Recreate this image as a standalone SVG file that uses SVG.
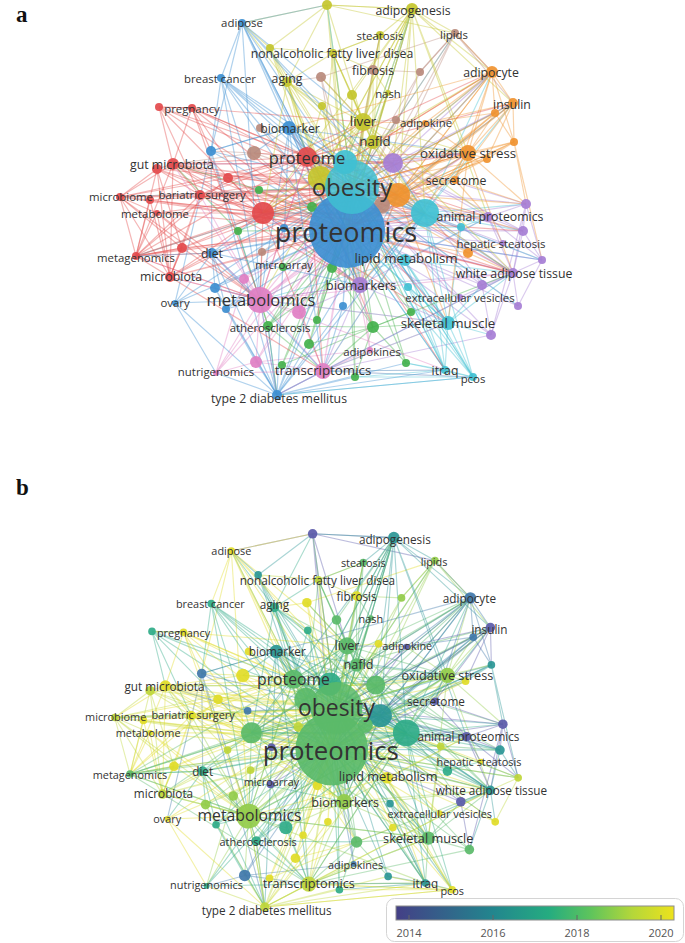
<svg xmlns="http://www.w3.org/2000/svg" width="685" height="943" viewBox="0 0 685 943">
<style>
.sR{stroke:#e34a4c}.sB{stroke:#3d8fd1}.sC{stroke:#40c0d2}.sY{stroke:#c4c62c}.sN{stroke:#b98a7c}.sO{stroke:#f0932f}.sP{stroke:#a67ed5}.sK{stroke:#e07fc3}.sG{stroke:#43b14c}
.fR{fill:#e34a4c}.fB{fill:#3d8fd1}.fC{fill:#40c0d2}.fY{fill:#c4c62c}.fN{fill:#b98a7c}.fO{fill:#f0932f}.fP{fill:#a67ed5}.fK{fill:#e07fc3}.fG{fill:#43b14c}
.s0{stroke:#5b5aa9}.s1{stroke:#3f77aa}.s2{stroke:#2a9695}.s3{stroke:#2fab88}.s4{stroke:#5aba69}.s5{stroke:#93cc4a}.s6{stroke:#bfd639}.s7{stroke:#e1dc27}
.f0{fill:#5b5aa9}.f1{fill:#3f77aa}.f2{fill:#2a9695}.f3{fill:#2fab88}.f4{fill:#5aba69}.f5{fill:#93cc4a}.f6{fill:#bfd639}.f7{fill:#e1dc27}
.edges{fill:none;stroke-width:1.2;stroke-opacity:.4}
circle{fill-opacity:.92}
.nodes text{font-family:"Open Sans","Noto Sans","DejaVu Sans",sans-serif;text-anchor:middle;dominant-baseline:central;fill:#333}
.l1{font-size:11.4px}.l2{font-size:12.3px}.l3{font-size:13.3px}.l4{font-size:16.5px;fill:#1e1e1e}.l5{font-size:24px;fill:#1a1a1a}.l6{font-size:27px;fill:#1a1a1a}
.pl{font-family:"Liberation Serif","Times New Roman",serif;font-size:23px;font-weight:bold;fill:#111}
.lg{font-family:"Open Sans","Noto Sans",sans-serif;font-size:11px;fill:#555;text-anchor:middle}
</style>
<defs>
<linearGradient id="vir" x1="0" x2="1" y1="0" y2="0">
<stop offset="0" stop-color="#443f86"/><stop offset="0.35" stop-color="#22868e"/><stop offset="0.55" stop-color="#25ac80"/><stop offset="0.7" stop-color="#5ec45c"/><stop offset="0.85" stop-color="#b4d73a"/><stop offset="1" stop-color="#ede21c"/>
</linearGradient>
<path id="e-u1" d="M327 5L347 230M327 5L352 187M327 5L412 9M327 5L242 23M327 5L455 33M327 5L333 53M327 5L363 122"/>
<path id="e-u2" d="M270 48L347 230M270 48L352 187M270 48L242 23M270 48L327 5M270 48L307 157"/>
<path id="e-u3" d="M321 77L347 230M321 77L352 187M321 77L363 122M321 77L287 82M321 77L455 33"/>
<path id="e-u4" d="M352 95L347 230M352 95L352 187M352 95L333 53M352 95L412 9M352 95L363 122"/>
<path id="e-u5" d="M322 106L347 230M322 106L352 187M322 106L287 82M322 106L307 157"/>
<path id="e-u6" d="M159 107L347 230M159 107L352 187M159 107L192 108M159 107L173 164M159 107L263 213M159 107L307 157M159 107L200 195"/>
<path id="e-u7" d="M420 72L347 230M420 72L352 187M420 72L455 33M420 72L373 70"/>
<path id="e-u8" d="M396 120L347 230M396 120L352 187M396 120L425 123M396 120L363 122"/>
<path id="e-u9" d="M495 113L347 230M495 113L352 187M495 113L425 123M495 113L514 142M495 113L398 195"/>
<path id="e-u10" d="M514 142L347 230M514 142L352 187M514 142L487 159M514 142L526 204M514 142L542 260M514 142L398 195"/>
<path id="e-u11" d="M487 159L347 230M487 159L352 187M487 159L398 195"/>
<path id="e-u12" d="M211 151L347 230M211 151L352 187M211 151L289 128M211 151L212 253M211 151L175 303M211 151L277 395M211 151L260 300"/>
<path id="e-u13" d="M254 153L347 230M254 153L352 187M254 153L307 157M254 153L211 151M254 153L173 164"/>
<path id="e-u14" d="M157 169L347 230M157 169L352 187M157 169L263 213M157 169L120 197M157 169L136 256M157 169L200 195M157 169L170 277M157 169L182 248"/>
<path id="e-u15" d="M228 178L347 230M228 178L352 187M228 178L307 157M228 178L263 213M228 178L136 256M228 178L120 197M228 178L468 153"/>
<path id="e-u16" d="M259 190L347 230M259 190L352 187M259 190L173 164"/>
<path id="e-u17" d="M150 200L347 230M150 200L352 187M150 200L263 213M150 200L136 256M150 200L170 277"/>
<path id="e-u18" d="M312 207L347 230M312 207L352 187M312 207L373 327"/>
<path id="e-u19" d="M238 231L347 230M238 231L352 187M238 231L173 164M238 231L268 326"/>
<path id="e-u20" d="M182 248L347 230M182 248L352 187M182 248L263 213M182 248L136 256M182 248L170 277M182 248L260 300"/>
<path id="e-u21" d="M262 252L347 230M262 252L352 187M262 252L260 300"/>
<path id="e-u22" d="M332 268L347 230M332 268L352 187M332 268L373 327"/>
<path id="e-u23" d="M408 287L347 230M408 287L352 187M408 287L448 323M408 287L445 370M408 287L473 377"/>
<path id="e-u24" d="M461 227L347 230M461 227L352 187M461 227L488 217M461 227L448 323"/>
<path id="e-u25" d="M244 279L347 230M244 279L352 187M244 279L216 373"/>
<path id="e-u26" d="M215 288L347 230M215 288L352 187M215 288L260 300M215 288L277 395M215 288L226 309"/>
<path id="e-u27" d="M226 309L347 230M226 309L352 187M226 309L260 300M226 309L277 395M226 309L256 362"/>
<path id="e-u28" d="M299 312L347 230M299 312L352 187M299 312L323 371"/>
<path id="e-u29" d="M343 306L347 230M343 306L352 187M343 306L277 395M343 306L323 371"/>
<path id="e-u30" d="M317 320L347 230M317 320L352 187"/>
<path id="e-u31" d="M309 344L347 230M309 344L352 187M309 344L373 327"/>
<path id="e-u32" d="M256 362L347 230M256 362L352 187M256 362L216 373M256 362L323 371M256 362L370 350"/>
<path id="e-u33" d="M282 365L347 230M282 365L352 187M282 365L373 327"/>
<path id="e-u34" d="M355 377L347 230M355 377L352 187"/>
<path id="e-u35" d="M526 204L347 230M526 204L352 187M526 204L523 231M526 204L542 260M526 204L513 273M526 204L491 335"/>
<path id="e-u36" d="M523 231L347 230M523 231L352 187M523 231L542 260M523 231L513 273"/>
<path id="e-u37" d="M468 253L347 230M468 253L352 187M468 253L503 243M468 253L513 273"/>
<path id="e-u38" d="M542 260L347 230M542 260L352 187M542 260L518 306M542 260L513 273"/>
<path id="e-u39" d="M482 285L347 230M482 285L352 187M482 285L491 335"/>
<path id="e-u40" d="M518 306L347 230M518 306L352 187"/>
<path id="e-u41" d="M411 312L347 230M411 312L352 187M411 312L373 327"/>
<path id="e-u42" d="M373 327L347 230M373 327L352 187M373 327L406 363M373 327L355 377M373 327L448 323"/>
<path id="e-u43" d="M491 335L347 230M491 335L352 187M491 335L323 371"/>
<path id="e-u44" d="M406 363L347 230M406 363L352 187"/>
<path id="e-u45" d="M260 128L347 230M260 128L352 187"/>
<path id="e-u46" d="M284 228L347 230M284 228L352 187"/>
<path id="e-u47" d="M263 213L347 230M263 213L352 187M263 213L307 157M263 213L260 300M263 213L425 213M263 213L393 163M263 213L398 195M263 213L136 256M263 213L170 277M263 213L360 285M263 213L323 371M263 213L488 217M263 213L468 153"/>
<path id="e-u48" d="M345 162L347 230M345 162L352 187M345 162L363 122M345 162L468 153M345 162L425 213"/>
<path id="e-u49" d="M320 178L347 230M320 178L352 187M320 178L363 122M320 178L412 9M320 178L333 53M320 178L287 82"/>
<path id="e-u50" d="M393 163L347 230M393 163L352 187M393 163L307 157M393 163L488 217M393 163L526 204M393 163L523 231M393 163L513 273M393 163L482 285M393 163L360 285M393 163L173 164"/>
<path id="e-u51" d="M398 195L347 230M398 195L352 187M398 195L468 153M398 195L492 72M398 195L513 103M398 195L495 113M398 195L514 142M398 195L455 180M398 195L487 159M398 195L468 253M398 195L523 231M398 195L526 204"/>
<path id="e-u52" d="M382 205L347 230M382 205L352 187"/>
<path id="e-u53" d="M425 213L347 230M425 213L352 187M425 213L488 217M425 213L523 231M425 213L526 204M425 213L513 273M425 213L448 323M425 213L445 370M425 213L473 377M425 213L468 153M425 213L492 72M425 213L513 103M425 213L260 300"/>
<path id="e-proteomics" d="M347 230L352 187M347 230L468 153M347 230L492 72M347 230L513 103M347 230L412 9M347 230L242 23M347 230L542 260M347 230L445 370"/>
<path id="e-obesity" d="M352 187L492 72M352 187L513 103M352 187L412 9M352 187L455 33M352 187L542 260M352 187L518 306M352 187L445 370M352 187L473 377M352 187L327 5M352 187L136 256M352 187L120 197"/>
<path id="e-proteome" d="M307 157L347 230M307 157L352 187M307 157L363 122M307 157L393 163M307 157L398 195M307 157L425 213M307 157L468 153M307 157L360 285M307 157L260 300M307 157L373 142M307 157L289 128M307 157L254 153M307 157L513 273M307 157L488 217M307 157L373 327"/>
<path id="e-metabolomics" d="M260 300L347 230M260 300L352 187M260 300L216 373M260 300L256 362M260 300L323 371M260 300L299 312M260 300L244 279M260 300L445 370M260 300L360 285M260 300L277 395M260 300L136 256"/>
<path id="e-liver" d="M363 122L347 230M363 122L352 187M363 122L307 157M363 122L373 142M363 122L380 35M363 122L412 9M363 122L373 70M363 122L388 93M363 122L352 95M363 122L333 53M363 122L287 82M363 122L321 77M363 122L468 153M363 122L260 300"/>
<path id="e-nafld" d="M373 142L347 230M373 142L352 187M373 142L380 35M373 142L412 9M373 142L333 53M373 142L373 70M373 142L388 93M373 142L352 95"/>
<path id="e-biomarker" d="M289 128L347 230M289 128L352 187M289 128L307 157M289 128L211 151M289 128L360 285M289 128L425 213M289 128L393 163M289 128L254 153M289 128L260 300M289 128L277 395"/>
<path id="e-biomarkers" d="M360 285L347 230M360 285L352 187M360 285L260 300M360 285L513 273M360 285L488 217M360 285L323 371M360 285L299 312"/>
<path id="e-oxidative" d="M468 153L347 230M468 153L352 187M468 153L492 72M468 153L513 103M468 153L495 113M468 153L514 142M468 153L487 159M468 153L455 180M468 153L425 123M468 153L526 204M468 153L513 273"/>
<path id="e-transcriptomics" d="M323 371L347 230M323 371L352 187M323 371L370 350M323 371L445 370M323 371L473 377M323 371L513 273"/>
<path id="e-skeletal" d="M448 323L347 230M448 323L352 187M448 323L445 370M448 323L473 377M448 323L491 335M448 323L513 273M448 323L482 285M448 323L260 300M448 323L323 371"/>
<path id="e-lipidmet" d="M405 260L347 230M405 260L352 187M405 260L448 323M405 260L513 273M405 260L488 217M405 260L445 370M405 260L473 377M405 260L260 300"/>
<path id="e-animal" d="M488 217L347 230M488 217L352 187M488 217L526 204M488 217L523 231M488 217L542 260M488 217L513 273M488 217L503 243"/>
<path id="e-wat" d="M513 273L347 230M513 273L352 187M513 273L482 285M513 273L518 306M513 273L491 335M513 273L460 297"/>
<path id="e-gut" d="M173 164L347 230M173 164L352 187M173 164L307 157M173 164L263 213M173 164L120 197M173 164L157 169M173 164L136 256M173 164L170 277M173 164L200 195M173 164L228 178M173 164L398 195"/>
<path id="e-adipogenesis" d="M412 9L347 230M412 9L352 187M412 9L492 72M412 9L380 35M412 9L455 33M412 9L327 5M412 9L513 103M412 9L393 163M412 9L398 195M412 9L320 178M412 9L345 162"/>
<path id="e-adipocyte" d="M492 72L347 230M492 72L352 187M492 72L513 103M492 72L495 113M492 72L425 123M492 72L455 33M492 72L514 142M492 72L455 180M492 72L398 195M492 72L263 213M492 72L289 128"/>
<path id="e-insulin" d="M513 103L347 230M513 103L352 187M513 103L495 113M513 103L514 142M513 103L425 123M513 103L487 159M513 103L455 180"/>
<path id="e-aging" d="M287 82L347 230M287 82L352 187M287 82L307 157M287 82L333 53M287 82L270 48M287 82L242 23M287 82L327 5"/>
<path id="e-bariatric" d="M200 195L347 230M200 195L352 187M200 195L307 157M200 195L263 213M200 195L136 256M200 195L170 277M200 195L182 248M200 195L363 122M200 195L425 213M200 195L398 195"/>
<path id="e-ather" d="M268 326L347 230M268 326L352 187M268 326L260 300M268 326L323 371M268 326L277 395M268 326L373 327"/>
<path id="e-t2d" d="M277 395L347 230M277 395L352 187M277 395L260 300M277 395L256 362M277 395L323 371M277 395L355 377M277 395L445 370M277 395L473 377M277 395L216 373M277 395L268 326M277 395L406 363"/>
<path id="e-secretome" d="M455 180L347 230M455 180L352 187M455 180L526 204M455 180L488 217"/>
<path id="e-nafldis" d="M333 53L347 230M333 53L352 187M333 53L270 48M333 53L380 35M333 53L373 70"/>
<path id="e-fibrosis" d="M373 70L347 230M373 70L352 187M373 70L380 35"/>
<path id="e-steatosis" d="M380 35L347 230M380 35L352 187M380 35L333 53M380 35L373 70"/>
<path id="e-lipids" d="M455 33L347 230M455 33L352 187M455 33L492 72M455 33L513 103M455 33L420 72M455 33L393 163"/>
<path id="e-nash" d="M388 93L347 230M388 93L352 187M388 93L373 70"/>
<path id="e-adipokine" d="M425 123L347 230M425 123L352 187M425 123L363 122"/>
<path id="e-adipose" d="M242 23L347 230M242 23L352 187M242 23L307 157M242 23L289 128M242 23L211 151M242 23L221 78M242 23L360 285M242 23L363 122M242 23L327 5"/>
<path id="e-breast" d="M221 78L347 230M221 78L352 187M221 78L307 157M221 78L289 128M221 78L211 151M221 78L263 213M221 78L260 300"/>
<path id="e-pregnancy" d="M192 108L347 230M192 108L352 187M192 108L307 157M192 108L159 107M192 108L173 164M192 108L263 213M192 108L211 151M192 108L363 122"/>
<path id="e-microbiome" d="M120 197L347 230M120 197L352 187M120 197L263 213M120 197L200 195M120 197L136 256M120 197L157 213M120 197L170 277M120 197L182 248M120 197L150 200"/>
<path id="e-metabolome" d="M157 213L347 230M157 213L352 187M157 213L263 213M157 213L136 256M157 213L170 277M157 213L260 300M157 213L212 253"/>
<path id="e-metagenomics" d="M136 256L347 230M136 256L352 187M136 256L170 277M136 256L260 300M136 256L212 253M136 256L182 248M136 256L323 371"/>
<path id="e-diet" d="M212 253L347 230M212 253L352 187M212 253L260 300M212 253L175 303M212 253L215 288M212 253L226 309M212 253L277 395M212 253L136 256M212 253L263 213"/>
<path id="e-microbiota" d="M170 277L347 230M170 277L352 187M170 277L260 300M170 277L212 253M170 277L182 248M170 277L425 213"/>
<path id="e-microarray" d="M283 267L347 230M283 267L352 187"/>
<path id="e-ovary" d="M175 303L347 230M175 303L352 187M175 303L260 300M175 303L277 395M175 303L216 373"/>
<path id="e-nutri" d="M216 373L347 230M216 373L352 187M216 373L323 371"/>
<path id="e-adipokines" d="M370 350L347 230M370 350L352 187"/>
<path id="e-hepatic" d="M503 243L347 230M503 243L352 187"/>
<path id="e-ev" d="M460 297L347 230M460 297L352 187"/>
<path id="e-itraq" d="M445 370L347 230M445 370L352 187M445 370L473 377M445 370L323 371M445 370L355 377M445 370L406 363"/>
<path id="e-pcos" d="M473 377L347 230M473 377L352 187M473 377L355 377M473 377L406 363M473 377L323 371M473 377L277 395"/>
<path id="x-r7" d="M173 164L360 285M173 164L393 163M173 164L425 213M173 164L513 273M192 108L398 195M192 108L260 300M200 195L468 153M200 195L360 285M200 195L513 273"/>
<path id="x-r6" d="M120 197L307 157M120 197L398 195M120 197L260 300"/>
<path id="x-r4" d="M136 256L307 157M136 256L425 213M263 213L513 273M263 213L448 323M263 213L523 231M263 213L492 72M307 157L513 103M307 157L492 72M307 157L448 323M307 157L323 371M307 157L445 370"/>
<path id="x-b2" d="M289 128L468 153M289 128L513 273M289 128L448 323M289 128L323 371"/>
<path id="x-b7" d="M242 23L398 195M242 23L425 213M242 23L260 300"/>
<path id="x-b3" d="M221 78L398 195M221 78L360 285M212 253L425 213M212 253L360 285M212 253L323 371"/>
<path id="x-b6" d="M277 395L425 213M277 395L398 195M277 395L513 273"/>
<path id="x-y4" d="M363 122L425 213M363 122L398 195M363 122L513 273M363 122L488 217M363 122L360 285M363 122L263 213M373 142L468 153M373 142L425 213M373 142L492 72M373 142L263 213"/>
<path id="x-y2" d="M412 9L425 213M412 9L468 153M412 9L488 217M412 9L263 213"/>
<path id="x-y3" d="M287 82L393 163M287 82L425 213M287 82L263 213M287 82L360 285"/>
<path id="x-k5" d="M260 300L425 213M260 300L398 195M260 300L468 153M260 300L513 273M260 300L448 323M260 300L307 157M260 300L173 164M260 300L200 195M260 300L212 253M260 300L170 277"/>
<path id="x-k6" d="M323 371L425 213M323 371L448 323M323 371L277 395"/>
<path id="x-p5" d="M360 285L425 213M360 285L398 195M360 285L263 213M360 285L448 323"/>
<path id="x-p4" d="M393 163L398 195M393 163L468 153M393 163L492 72M393 163L513 103M393 163L425 213"/>
<path id="x-c3" d="M425 213L393 163M425 213L263 213M425 213L307 157M425 213L360 285M425 213L323 371"/>
<path id="x-g3" d="M268 326L425 213M268 326L398 195"/>
<path id="x-g4" d="M373 327L513 273M373 327L323 371"/>
<path id="x-o5" d="M468 153L263 213M468 153L360 285M468 153L448 323"/>
<path id="x-o2" d="M398 195L263 213M398 195L307 157M398 195L360 285M398 195L448 323M398 195L513 273M398 195L488 217"/>
</defs>
<rect width="685" height="943" fill="#fff"/>
<text class="pl" x="16" y="22">a</text>
<text class="pl" x="16" y="495">b</text>

<g id="panel-a">
<g id="edges-a" class="edges">
<use href="#e-u1" class="sY"/><use href="#e-u2" class="sY"/><use href="#e-u3" class="sN"/><use href="#e-u4" class="sY"/><use href="#e-u5" class="sY"/><use href="#e-u6" class="sR"/><use href="#e-u7" class="sN"/><use href="#e-u8" class="sN"/><use href="#e-u9" class="sO"/><use href="#e-u10" class="sO"/><use href="#e-u11" class="sO"/><use href="#e-u12" class="sB"/><use href="#e-u13" class="sN"/><use href="#e-u14" class="sR"/><use href="#e-u15" class="sR"/><use href="#e-u16" class="sG"/><use href="#e-u17" class="sR"/><use href="#e-u18" class="sG"/><use href="#e-u19" class="sG"/><use href="#e-u20" class="sR"/><use href="#e-u21" class="sN"/><use href="#e-u22" class="sG"/><use href="#e-u23" class="sC"/><use href="#e-u24" class="sC"/><use href="#e-u25" class="sK"/><use href="#e-u26" class="sB"/><use href="#e-u27" class="sB"/><use href="#e-u28" class="sK"/><use href="#e-u29" class="sB"/><use href="#e-u30" class="sG"/><use href="#e-u31" class="sG"/><use href="#e-u32" class="sK"/><use href="#e-u33" class="sG"/><use href="#e-u34" class="sG"/><use href="#e-u35" class="sP"/><use href="#e-u36" class="sP"/><use href="#e-u37" class="sO"/><use href="#e-u38" class="sP"/><use href="#e-u39" class="sP"/><use href="#e-u40" class="sP"/><use href="#e-u41" class="sG"/><use href="#e-u42" class="sG"/><use href="#e-u43" class="sP"/><use href="#e-u44" class="sG"/><use href="#e-u45" class="sN"/><use href="#e-u46" class="sB"/><use href="#e-u47" class="sR"/><use href="#e-u48" class="sC"/><use href="#e-u49" class="sY"/><use href="#e-u50" class="sP"/><use href="#e-u51" class="sO"/><use href="#e-u52" class="sN"/><use href="#e-u53" class="sC"/>
<use href="#e-proteomics" class="sB"/><use href="#e-obesity" class="sC"/><use href="#e-proteome" class="sR"/><use href="#e-metabolomics" class="sK"/><use href="#e-liver" class="sY"/><use href="#e-nafld" class="sY"/><use href="#e-biomarker" class="sB"/><use href="#e-biomarkers" class="sP"/><use href="#e-oxidative" class="sO"/><use href="#e-transcriptomics" class="sK"/><use href="#e-skeletal" class="sC"/><use href="#e-lipidmet" class="sC"/><use href="#e-animal" class="sP"/><use href="#e-wat" class="sP"/><use href="#e-gut" class="sR"/><use href="#e-adipogenesis" class="sY"/><use href="#e-adipocyte" class="sO"/><use href="#e-insulin" class="sO"/><use href="#e-aging" class="sY"/><use href="#e-bariatric" class="sR"/><use href="#e-ather" class="sG"/><use href="#e-t2d" class="sB"/><use href="#e-secretome" class="sO"/><use href="#e-nafldis" class="sY"/><use href="#e-fibrosis" class="sN"/><use href="#e-steatosis" class="sY"/><use href="#e-lipids" class="sN"/><use href="#e-nash" class="sY"/><use href="#e-adipokine" class="sO"/><use href="#e-adipose" class="sB"/><use href="#e-breast" class="sB"/><use href="#e-pregnancy" class="sR"/><use href="#e-microbiome" class="sR"/><use href="#e-metabolome" class="sR"/><use href="#e-metagenomics" class="sR"/><use href="#e-diet" class="sB"/><use href="#e-microbiota" class="sR"/><use href="#e-microarray" class="sG"/><use href="#e-ovary" class="sB"/><use href="#e-nutri" class="sK"/><use href="#e-adipokines" class="sK"/><use href="#e-hepatic" class="sP"/><use href="#e-ev" class="sP"/><use href="#e-itraq" class="sC"/><use href="#e-pcos" class="sC"/>
<use href="#x-r7" class="sR"/><use href="#x-r6" class="sR"/><use href="#x-r4" class="sR"/><use href="#x-b2" class="sB"/><use href="#x-b7" class="sB"/><use href="#x-b3" class="sB"/><use href="#x-b6" class="sB"/><use href="#x-y4" class="sY"/><use href="#x-y2" class="sY"/><use href="#x-y3" class="sY"/><use href="#x-k5" class="sK"/><use href="#x-k6" class="sK"/><use href="#x-p5" class="sP"/><use href="#x-p4" class="sP"/><use href="#x-c3" class="sC"/><use href="#x-g3" class="sG"/><use href="#x-g4" class="sG"/><use href="#x-o5" class="sO"/><use href="#x-o2" class="sO"/>
</g>
<g id="nodes-a" class="nodes">
<g id="a-u1"><circle class="fY" cx="327" cy="5" r="5"/></g>
<g id="a-u2"><circle class="fY" cx="270" cy="48" r="4"/></g>
<g id="a-u3"><circle class="fN" cx="321" cy="77" r="5"/></g>
<g id="a-u4"><circle class="fY" cx="352" cy="95" r="5"/></g>
<g id="a-u5"><circle class="fY" cx="322" cy="106" r="4"/></g>
<g id="a-u6"><circle class="fR" cx="159" cy="107" r="4"/></g>
<g id="a-u7"><circle class="fN" cx="420" cy="72" r="4"/></g>
<g id="a-u8"><circle class="fN" cx="396" cy="120" r="4"/></g>
<g id="a-u9"><circle class="fO" cx="495" cy="113" r="4"/></g>
<g id="a-u10"><circle class="fO" cx="514" cy="142" r="4"/></g>
<g id="a-u11"><circle class="fO" cx="487" cy="159" r="4"/></g>
<g id="a-u12"><circle class="fB" cx="211" cy="151" r="5"/></g>
<g id="a-u13"><circle class="fN" cx="254" cy="153" r="7"/></g>
<g id="a-u14"><circle class="fR" cx="157" cy="169" r="5"/></g>
<g id="a-u15"><circle class="fR" cx="228" cy="178" r="5"/></g>
<g id="a-u16"><circle class="fG" cx="259" cy="190" r="4"/></g>
<g id="a-u17"><circle class="fR" cx="150" cy="200" r="4"/></g>
<g id="a-u18"><circle class="fG" cx="312" cy="207" r="5"/></g>
<g id="a-u19"><circle class="fG" cx="238" cy="231" r="4"/></g>
<g id="a-u20"><circle class="fR" cx="182" cy="248" r="5"/></g>
<g id="a-u21"><circle class="fN" cx="262" cy="252" r="4"/></g>
<g id="a-u22"><circle class="fG" cx="332" cy="268" r="5"/></g>
<g id="a-u23"><circle class="fC" cx="408" cy="287" r="4"/></g>
<g id="a-u24"><circle class="fC" cx="461" cy="227" r="4"/></g>
<g id="a-u25"><circle class="fK" cx="244" cy="279" r="5"/></g>
<g id="a-u26"><circle class="fB" cx="215" cy="288" r="5"/></g>
<g id="a-u27"><circle class="fB" cx="226" cy="309" r="4"/></g>
<g id="a-u28"><circle class="fK" cx="299" cy="312" r="7"/></g>
<g id="a-u29"><circle class="fB" cx="343" cy="306" r="4"/></g>
<g id="a-u30"><circle class="fG" cx="317" cy="320" r="4"/></g>
<g id="a-u31"><circle class="fG" cx="309" cy="344" r="5"/></g>
<g id="a-u32"><circle class="fK" cx="256" cy="362" r="6"/></g>
<g id="a-u33"><circle class="fG" cx="282" cy="365" r="4"/></g>
<g id="a-u34"><circle class="fG" cx="355" cy="377" r="4"/></g>
<g id="a-u35"><circle class="fP" cx="526" cy="204" r="5"/></g>
<g id="a-u36"><circle class="fP" cx="523" cy="231" r="5"/></g>
<g id="a-u37"><circle class="fO" cx="468" cy="253" r="5"/></g>
<g id="a-u38"><circle class="fP" cx="542" cy="260" r="4"/></g>
<g id="a-u39"><circle class="fP" cx="482" cy="285" r="5"/></g>
<g id="a-u40"><circle class="fP" cx="518" cy="306" r="4"/></g>
<g id="a-u41"><circle class="fG" cx="411" cy="312" r="4"/></g>
<g id="a-u42"><circle class="fG" cx="373" cy="327" r="6"/></g>
<g id="a-u43"><circle class="fP" cx="491" cy="335" r="5"/></g>
<g id="a-u44"><circle class="fG" cx="406" cy="363" r="4"/></g>
<g id="a-u45"><circle class="fN" cx="260" cy="128" r="4"/></g>
<g id="a-u46"><circle class="fB" cx="284" cy="228" r="4"/></g>
<g id="a-u47"><circle class="fR" cx="263" cy="213" r="11"/></g>
<g id="a-u48"><circle class="fC" cx="345" cy="162" r="12"/></g>
<g id="a-u49"><circle class="fY" cx="320" cy="178" r="12"/></g>
<g id="a-u50"><circle class="fP" cx="393" cy="163" r="10"/></g>
<g id="a-u51"><circle class="fO" cx="398" cy="195" r="12"/></g>
<g id="a-u52"><circle class="fN" cx="382" cy="205" r="8"/></g>
<g id="a-u53"><circle class="fC" cx="425" cy="213" r="14"/></g>
<g id="a-proteomics"><circle class="fB" cx="347" cy="230" r="38"/><text class="l6" x="346" y="231">proteomics</text></g>
<g id="a-obesity"><circle class="fC" cx="352" cy="187" r="27" style="fill-opacity:.85"/><text class="l5" x="352" y="186">obesity</text></g>
<g id="a-proteome"><circle class="fR" cx="307" cy="157" r="10"/><text class="l4" x="307" y="157">proteome</text></g>
<g id="a-metabolomics"><circle class="fK" cx="260" cy="300" r="13"/><text class="l4" x="261" y="299">metabolomics</text></g>
<g id="a-liver"><circle class="fY" cx="363" cy="122" r="9"/><text class="l3" x="363" y="121">liver</text></g>
<g id="a-nafld"><circle class="fY" cx="373" cy="142" r="7"/><text class="l3" x="375" y="141">nafld</text></g>
<g id="a-biomarker"><circle class="fB" cx="289" cy="128" r="7"/><text class="l2" x="290" y="128">biomarker</text></g>
<g id="a-biomarkers"><circle class="fP" cx="360" cy="285" r="8"/><text class="l3" x="361" y="285">biomarkers</text></g>
<g id="a-oxidative-stress"><circle class="fO" cx="468" cy="153" r="8"/><text class="l3" x="468" y="153">oxidative stress</text></g>
<g id="a-transcriptomics"><circle class="fK" cx="323" cy="371" r="8"/><text class="l3" x="323" y="370">transcriptomics</text></g>
<g id="a-skeletal-muscle"><circle class="fC" cx="448" cy="323" r="7"/><text class="l3" x="448" y="323">skeletal muscle</text></g>
<g id="a-lipid-metabolism"><circle class="fC" cx="405" cy="260" r="6"/><text class="l3" x="406" y="258">lipid metabolism</text></g>
<g id="a-animal-proteomics"><circle class="fP" cx="488" cy="217" r="5"/><text class="l2" x="490" y="216">animal proteomics</text></g>
<g id="a-white-adipose-tissue"><circle class="fP" cx="513" cy="273" r="5"/><text class="l2" x="514" y="273">white adipose tissue</text></g>
<g id="a-gut-microbiota"><circle class="fR" cx="173" cy="164" r="6"/><text class="l2" x="172" y="164">gut microbiota</text></g>
<g id="a-adipogenesis"><circle class="fY" cx="412" cy="9" r="6"/><text class="l2" x="413" y="10">adipogenesis</text></g>
<g id="a-adipocyte"><circle class="fO" cx="492" cy="72" r="6"/><text class="l2" x="491" y="72">adipocyte</text></g>
<g id="a-insulin"><circle class="fO" cx="513" cy="103" r="5"/><text class="l2" x="512" y="104">insulin</text></g>
<g id="a-aging"><circle class="fY" cx="287" cy="82" r="5"/><text class="l2" x="287" y="78">aging</text></g>
<g id="a-bariatric-surgery"><circle class="fR" cx="200" cy="195" r="5"/><text class="l1" x="202" y="194">bariatric surgery</text></g>
<g id="a-atherosclerosis"><circle class="fG" cx="268" cy="326" r="5"/><text class="l1" x="270" y="327">atherosclerosis</text></g>
<g id="a-type-2-diabetes-mellitus"><circle class="fB" cx="277" cy="395" r="5"/><text class="l2" x="279" y="398">type 2 diabetes mellitus</text></g>
<g id="a-secretome"><circle class="fO" cx="455" cy="180" r="4"/><text class="l2" x="456" y="180">secretome</text></g>
<g id="a-nonalcoholic-fatty-liver-disea"><circle class="fY" cx="333" cy="53" r="4"/><text class="l2" x="332" y="53">nonalcoholic fatty liver disea</text></g>
<g id="a-fibrosis"><circle class="fN" cx="373" cy="70" r="5"/><text class="l2" x="373" y="70">fibrosis</text></g>
<g id="a-steatosis"><circle class="fY" cx="380" cy="35" r="4"/><text class="l1" x="380" y="35">steatosis</text></g>
<g id="a-lipids"><circle class="fN" cx="455" cy="33" r="4"/><text class="l1" x="454" y="34">lipids</text></g>
<g id="a-nash"><circle class="fY" cx="388" cy="93" r="3"/><text class="l1" x="388" y="93">nash</text></g>
<g id="a-adipokine"><circle class="fO" cx="425" cy="123" r="3"/><text class="l1" x="426" y="122">adipokine</text></g>
<g id="a-adipose"><circle class="fB" cx="242" cy="23" r="4"/><text class="l1" x="242" y="22">adipose</text></g>
<g id="a-breast-cancer"><circle class="fB" cx="221" cy="78" r="4"/><text class="l1" x="220" y="78">breast cancer</text></g>
<g id="a-pregnancy"><circle class="fR" cx="192" cy="108" r="4"/><text class="l1" x="192" y="108">pregnancy</text></g>
<g id="a-microbiome"><circle class="fR" cx="120" cy="197" r="4"/><text class="l1" x="121" y="196">microbiome</text></g>
<g id="a-metabolome"><circle class="fR" cx="157" cy="213" r="3"/><text class="l1" x="155" y="213">metabolome</text></g>
<g id="a-metagenomics"><circle class="fR" cx="136" cy="256" r="4"/><text class="l1" x="136" y="257">metagenomics</text></g>
<g id="a-diet"><circle class="fB" cx="212" cy="253" r="5"/><text class="l2" x="212" y="253">diet</text></g>
<g id="a-microbiota"><circle class="fR" cx="170" cy="277" r="5"/><text class="l2" x="171" y="276">microbiota</text></g>
<g id="a-microarray"><circle class="fG" cx="283" cy="267" r="4"/><text class="l1" x="284" y="264">microarray</text></g>
<g id="a-ovary"><circle class="fB" cx="175" cy="303" r="3"/><text class="l1" x="175" y="302">ovary</text></g>
<g id="a-nutrigenomics"><circle class="fK" cx="216" cy="373" r="3"/><text class="l1" x="216" y="371">nutrigenomics</text></g>
<g id="a-adipokines"><circle class="fK" cx="370" cy="350" r="3"/><text class="l1" x="372" y="351">adipokines</text></g>
<g id="a-hepatic-steatosis"><circle class="fP" cx="503" cy="243" r="3"/><text class="l1" x="501" y="243">hepatic steatosis</text></g>
<g id="a-extracellular-vesicles"><circle class="fP" cx="460" cy="297" r="3"/><text class="l1" x="460" y="297">extracellular vesicles</text></g>
<g id="a-itraq"><circle class="fC" cx="445" cy="370" r="4"/><text class="l2" x="445" y="370">itraq</text></g>
<g id="a-pcos"><circle class="fC" cx="473" cy="377" r="4"/><text class="l1" x="473" y="378">pcos</text></g>
</g>
</g>

<g id="panel-b" transform="matrix(0.956 0 0 0.957 0 529)">
<g id="edges-b" class="edges">
<use href="#e-u1" class="s0"/><use href="#e-u2" class="s2"/><use href="#e-u3" class="s7"/><use href="#e-u4" class="s4"/><use href="#e-u5" class="s3"/><use href="#e-u6" class="s3"/><use href="#e-u7" class="s5"/><use href="#e-u8" class="s7"/><use href="#e-u9" class="s1"/><use href="#e-u10" class="s2"/><use href="#e-u11" class="s7"/><use href="#e-u12" class="s1"/><use href="#e-u13" class="s7"/><use href="#e-u14" class="s6"/><use href="#e-u15" class="s7"/><use href="#e-u16" class="s1"/><use href="#e-u17" class="s7"/><use href="#e-u18" class="s6"/><use href="#e-u19" class="s6"/><use href="#e-u20" class="s7"/><use href="#e-u21" class="s6"/><use href="#e-u22" class="s7"/><use href="#e-u23" class="s2"/><use href="#e-u24" class="s6"/><use href="#e-u25" class="s5"/><use href="#e-u26" class="s5"/><use href="#e-u27" class="s3"/><use href="#e-u28" class="s3"/><use href="#e-u29" class="s7"/><use href="#e-u30" class="s7"/><use href="#e-u31" class="s7"/><use href="#e-u32" class="s1"/><use href="#e-u33" class="s7"/><use href="#e-u34" class="s3"/><use href="#e-u35" class="s0"/><use href="#e-u36" class="s2"/><use href="#e-u37" class="s3"/><use href="#e-u38" class="s6"/><use href="#e-u39" class="s0"/><use href="#e-u40" class="s7"/><use href="#e-u41" class="s7"/><use href="#e-u42" class="s4"/><use href="#e-u43" class="s4"/><use href="#e-u44" class="s2"/><use href="#e-u45" class="s7"/><use href="#e-u46" class="s0"/><use href="#e-u47" class="s4"/><use href="#e-u48" class="s3"/><use href="#e-u49" class="s4"/><use href="#e-u50" class="s4"/><use href="#e-u51" class="s2"/><use href="#e-u52" class="s4"/><use href="#e-u53" class="s3"/>
<use href="#e-proteomics" class="s4"/><use href="#e-obesity" class="s4"/><use href="#e-proteome" class="s4"/><use href="#e-metabolomics" class="s5"/><use href="#e-liver" class="s4"/><use href="#e-nafld" class="s4"/><use href="#e-biomarker" class="s2"/><use href="#e-biomarkers" class="s5"/><use href="#e-oxidative" class="s5"/><use href="#e-transcriptomics" class="s6"/><use href="#e-skeletal" class="s4"/><use href="#e-lipidmet" class="s7"/><use href="#e-animal" class="s0"/><use href="#e-wat" class="s2"/><use href="#e-gut" class="s7"/><use href="#e-adipogenesis" class="s2"/><use href="#e-adipocyte" class="s1"/><use href="#e-insulin" class="s0"/><use href="#e-aging" class="s3"/><use href="#e-bariatric" class="s7"/><use href="#e-ather" class="s3"/><use href="#e-t2d" class="s6"/><use href="#e-secretome" class="s0"/><use href="#e-nafldis" class="s6"/><use href="#e-fibrosis" class="s7"/><use href="#e-steatosis" class="s4"/><use href="#e-lipids" class="s5"/><use href="#e-nash" class="s4"/><use href="#e-adipokine" class="s0"/><use href="#e-adipose" class="s7"/><use href="#e-breast" class="s3"/><use href="#e-pregnancy" class="s7"/><use href="#e-microbiome" class="s6"/><use href="#e-metabolome" class="s7"/><use href="#e-metagenomics" class="s4"/><use href="#e-diet" class="s3"/><use href="#e-microbiota" class="s6"/><use href="#e-microarray" class="s0"/><use href="#e-ovary" class="s7"/><use href="#e-nutri" class="s3"/><use href="#e-adipokines" class="s1"/><use href="#e-hepatic" class="s7"/><use href="#e-ev" class="s7"/><use href="#e-itraq" class="s2"/><use href="#e-pcos" class="s7"/>
<use href="#x-r7" class="s7"/><use href="#x-r6" class="s6"/><use href="#x-r4" class="s4"/><use href="#x-b2" class="s2"/><use href="#x-b7" class="s7"/><use href="#x-b3" class="s3"/><use href="#x-b6" class="s6"/><use href="#x-y4" class="s4"/><use href="#x-y2" class="s2"/><use href="#x-y3" class="s3"/><use href="#x-k5" class="s5"/><use href="#x-k6" class="s6"/><use href="#x-p5" class="s5"/><use href="#x-p4" class="s4"/><use href="#x-c3" class="s3"/><use href="#x-g3" class="s3"/><use href="#x-g4" class="s4"/><use href="#x-o5" class="s5"/><use href="#x-o2" class="s2"/>
</g>
<g id="nodes-b" class="nodes">
<g id="b-u1"><circle class="f0" cx="327" cy="5" r="5"/></g>
<g id="b-u2"><circle class="f2" cx="270" cy="48" r="4"/></g>
<g id="b-u3"><circle class="f7" cx="321" cy="77" r="5"/></g>
<g id="b-u4"><circle class="f4" cx="352" cy="95" r="5"/></g>
<g id="b-u5"><circle class="f3" cx="322" cy="106" r="4"/></g>
<g id="b-u6"><circle class="f3" cx="159" cy="107" r="4"/></g>
<g id="b-u7"><circle class="f5" cx="420" cy="72" r="4"/></g>
<g id="b-u8"><circle class="f7" cx="396" cy="120" r="4"/></g>
<g id="b-u9"><circle class="f1" cx="495" cy="113" r="4"/></g>
<g id="b-u10"><circle class="f2" cx="514" cy="142" r="4"/></g>
<g id="b-u11"><circle class="f7" cx="487" cy="159" r="4"/></g>
<g id="b-u12"><circle class="f1" cx="211" cy="151" r="5"/></g>
<g id="b-u13"><circle class="f7" cx="254" cy="153" r="7"/></g>
<g id="b-u14"><circle class="f6" cx="157" cy="169" r="5"/></g>
<g id="b-u15"><circle class="f7" cx="228" cy="178" r="5"/></g>
<g id="b-u16"><circle class="f1" cx="259" cy="190" r="4"/></g>
<g id="b-u17"><circle class="f7" cx="150" cy="200" r="4"/></g>
<g id="b-u18"><circle class="f6" cx="312" cy="207" r="5"/></g>
<g id="b-u19"><circle class="f6" cx="238" cy="231" r="4"/></g>
<g id="b-u20"><circle class="f7" cx="182" cy="248" r="5"/></g>
<g id="b-u21"><circle class="f6" cx="262" cy="252" r="4"/></g>
<g id="b-u22"><circle class="f7" cx="332" cy="268" r="5"/></g>
<g id="b-u23"><circle class="f2" cx="408" cy="287" r="4"/></g>
<g id="b-u24"><circle class="f6" cx="461" cy="227" r="4"/></g>
<g id="b-u25"><circle class="f5" cx="244" cy="279" r="5"/></g>
<g id="b-u26"><circle class="f5" cx="215" cy="288" r="5"/></g>
<g id="b-u27"><circle class="f3" cx="226" cy="309" r="4"/></g>
<g id="b-u28"><circle class="f3" cx="299" cy="312" r="7"/></g>
<g id="b-u29"><circle class="f7" cx="343" cy="306" r="4"/></g>
<g id="b-u30"><circle class="f7" cx="317" cy="320" r="4"/></g>
<g id="b-u31"><circle class="f7" cx="309" cy="344" r="5"/></g>
<g id="b-u32"><circle class="f1" cx="256" cy="362" r="6"/></g>
<g id="b-u33"><circle class="f7" cx="282" cy="365" r="4"/></g>
<g id="b-u34"><circle class="f3" cx="355" cy="377" r="4"/></g>
<g id="b-u35"><circle class="f0" cx="526" cy="204" r="5"/></g>
<g id="b-u36"><circle class="f2" cx="523" cy="231" r="5"/></g>
<g id="b-u37"><circle class="f3" cx="468" cy="253" r="5"/></g>
<g id="b-u38"><circle class="f6" cx="542" cy="260" r="4"/></g>
<g id="b-u39"><circle class="f0" cx="482" cy="285" r="5"/></g>
<g id="b-u40"><circle class="f7" cx="518" cy="306" r="4"/></g>
<g id="b-u41"><circle class="f7" cx="411" cy="312" r="4"/></g>
<g id="b-u42"><circle class="f4" cx="373" cy="327" r="6"/></g>
<g id="b-u43"><circle class="f4" cx="491" cy="335" r="5"/></g>
<g id="b-u44"><circle class="f2" cx="406" cy="363" r="4"/></g>
<g id="b-u45"><circle class="f7" cx="260" cy="128" r="4"/></g>
<g id="b-u46"><circle class="f0" cx="284" cy="228" r="4"/></g>
<g id="b-u47"><circle class="f4" cx="263" cy="213" r="11"/></g>
<g id="b-u48"><circle class="f3" cx="345" cy="162" r="12"/></g>
<g id="b-u49"><circle class="f4" cx="320" cy="178" r="12"/></g>
<g id="b-u50"><circle class="f4" cx="393" cy="163" r="10"/></g>
<g id="b-u51"><circle class="f2" cx="398" cy="195" r="12"/></g>
<g id="b-u52"><circle class="f4" cx="382" cy="205" r="8"/></g>
<g id="b-u53"><circle class="f3" cx="425" cy="213" r="14"/></g>
<g id="b-proteomics"><circle class="f4" cx="347" cy="230" r="38"/><text class="l6" x="346" y="231">proteomics</text></g>
<g id="b-obesity"><circle class="f4" cx="352" cy="187" r="27" style="fill-opacity:.85"/><text class="l5" x="352" y="186">obesity</text></g>
<g id="b-proteome"><circle class="f4" cx="307" cy="157" r="10"/><text class="l4" x="307" y="157">proteome</text></g>
<g id="b-metabolomics"><circle class="f5" cx="260" cy="300" r="13"/><text class="l4" x="261" y="299">metabolomics</text></g>
<g id="b-liver"><circle class="f4" cx="363" cy="122" r="9"/><text class="l3" x="363" y="121">liver</text></g>
<g id="b-nafld"><circle class="f4" cx="373" cy="142" r="7"/><text class="l3" x="375" y="141">nafld</text></g>
<g id="b-biomarker"><circle class="f2" cx="289" cy="128" r="7"/><text class="l2" x="290" y="128">biomarker</text></g>
<g id="b-biomarkers"><circle class="f5" cx="360" cy="285" r="8"/><text class="l3" x="361" y="285">biomarkers</text></g>
<g id="b-oxidative-stress"><circle class="f5" cx="468" cy="153" r="8"/><text class="l3" x="468" y="153">oxidative stress</text></g>
<g id="b-transcriptomics"><circle class="f6" cx="323" cy="371" r="8"/><text class="l3" x="323" y="370">transcriptomics</text></g>
<g id="b-skeletal-muscle"><circle class="f4" cx="448" cy="323" r="7"/><text class="l3" x="448" y="323">skeletal muscle</text></g>
<g id="b-lipid-metabolism"><circle class="f7" cx="405" cy="260" r="6"/><text class="l3" x="406" y="258">lipid metabolism</text></g>
<g id="b-animal-proteomics"><circle class="f0" cx="488" cy="217" r="5"/><text class="l2" x="490" y="216">animal proteomics</text></g>
<g id="b-white-adipose-tissue"><circle class="f2" cx="513" cy="273" r="5"/><text class="l2" x="514" y="273">white adipose tissue</text></g>
<g id="b-gut-microbiota"><circle class="f7" cx="173" cy="164" r="6"/><text class="l2" x="172" y="164">gut microbiota</text></g>
<g id="b-adipogenesis"><circle class="f2" cx="412" cy="9" r="6"/><text class="l2" x="413" y="10">adipogenesis</text></g>
<g id="b-adipocyte"><circle class="f1" cx="492" cy="72" r="6"/><text class="l2" x="491" y="72">adipocyte</text></g>
<g id="b-insulin"><circle class="f0" cx="513" cy="103" r="5"/><text class="l2" x="512" y="104">insulin</text></g>
<g id="b-aging"><circle class="f3" cx="287" cy="82" r="5"/><text class="l2" x="287" y="78">aging</text></g>
<g id="b-bariatric-surgery"><circle class="f7" cx="200" cy="195" r="5"/><text class="l1" x="202" y="194">bariatric surgery</text></g>
<g id="b-atherosclerosis"><circle class="f3" cx="268" cy="326" r="5"/><text class="l1" x="270" y="327">atherosclerosis</text></g>
<g id="b-type-2-diabetes-mellitus"><circle class="f6" cx="277" cy="395" r="5"/><text class="l2" x="279" y="398">type 2 diabetes mellitus</text></g>
<g id="b-secretome"><circle class="f0" cx="455" cy="180" r="4"/><text class="l2" x="456" y="180">secretome</text></g>
<g id="b-nonalcoholic-fatty-liver-disea"><circle class="f6" cx="333" cy="53" r="4"/><text class="l2" x="332" y="53">nonalcoholic fatty liver disea</text></g>
<g id="b-fibrosis"><circle class="f7" cx="373" cy="70" r="5"/><text class="l2" x="373" y="70">fibrosis</text></g>
<g id="b-steatosis"><circle class="f4" cx="380" cy="35" r="4"/><text class="l1" x="380" y="35">steatosis</text></g>
<g id="b-lipids"><circle class="f5" cx="455" cy="33" r="4"/><text class="l1" x="454" y="34">lipids</text></g>
<g id="b-nash"><circle class="f4" cx="388" cy="93" r="3"/><text class="l1" x="388" y="93">nash</text></g>
<g id="b-adipokine"><circle class="f0" cx="425" cy="123" r="3"/><text class="l1" x="426" y="122">adipokine</text></g>
<g id="b-adipose"><circle class="f7" cx="242" cy="23" r="4"/><text class="l1" x="242" y="22">adipose</text></g>
<g id="b-breast-cancer"><circle class="f3" cx="221" cy="78" r="4"/><text class="l1" x="220" y="78">breast cancer</text></g>
<g id="b-pregnancy"><circle class="f7" cx="192" cy="108" r="4"/><text class="l1" x="192" y="108">pregnancy</text></g>
<g id="b-microbiome"><circle class="f6" cx="120" cy="197" r="4"/><text class="l1" x="121" y="196">microbiome</text></g>
<g id="b-metabolome"><circle class="f7" cx="157" cy="213" r="3"/><text class="l1" x="155" y="213">metabolome</text></g>
<g id="b-metagenomics"><circle class="f4" cx="136" cy="256" r="4"/><text class="l1" x="136" y="257">metagenomics</text></g>
<g id="b-diet"><circle class="f3" cx="212" cy="253" r="5"/><text class="l2" x="212" y="253">diet</text></g>
<g id="b-microbiota"><circle class="f6" cx="170" cy="277" r="5"/><text class="l2" x="171" y="276">microbiota</text></g>
<g id="b-microarray"><circle class="f0" cx="283" cy="267" r="4"/><text class="l1" x="284" y="264">microarray</text></g>
<g id="b-ovary"><circle class="f7" cx="175" cy="303" r="3"/><text class="l1" x="175" y="302">ovary</text></g>
<g id="b-nutrigenomics"><circle class="f3" cx="216" cy="373" r="3"/><text class="l1" x="216" y="371">nutrigenomics</text></g>
<g id="b-adipokines"><circle class="f1" cx="370" cy="350" r="3"/><text class="l1" x="372" y="351">adipokines</text></g>
<g id="b-hepatic-steatosis"><circle class="f7" cx="503" cy="243" r="3"/><text class="l1" x="501" y="243">hepatic steatosis</text></g>
<g id="b-extracellular-vesicles"><circle class="f7" cx="460" cy="297" r="3"/><text class="l1" x="460" y="297">extracellular vesicles</text></g>
<g id="b-itraq"><circle class="f2" cx="445" cy="370" r="4"/><text class="l2" x="445" y="370">itraq</text></g>
<g id="b-pcos"><circle class="f7" cx="473" cy="377" r="4"/><text class="l1" x="473" y="378">pcos</text></g>
</g>
</g>

<g id="legend">
<rect x="386.5" y="898.5" width="297" height="43" rx="8" fill="#fff" stroke="#d4d4d4"/>
<rect x="396" y="906" width="278" height="14" fill="url(#vir)" stroke="#8c8c8c"/>
<path d="M409 915V920M493 915V920M577 915V920M661 915V920" stroke="#666" stroke-width="1"/>
<text class="lg" x="409" y="937">2014</text>
<text class="lg" x="493" y="937">2016</text>
<text class="lg" x="577" y="937">2018</text>
<text class="lg" x="661" y="937">2020</text>
</g>
</svg>
